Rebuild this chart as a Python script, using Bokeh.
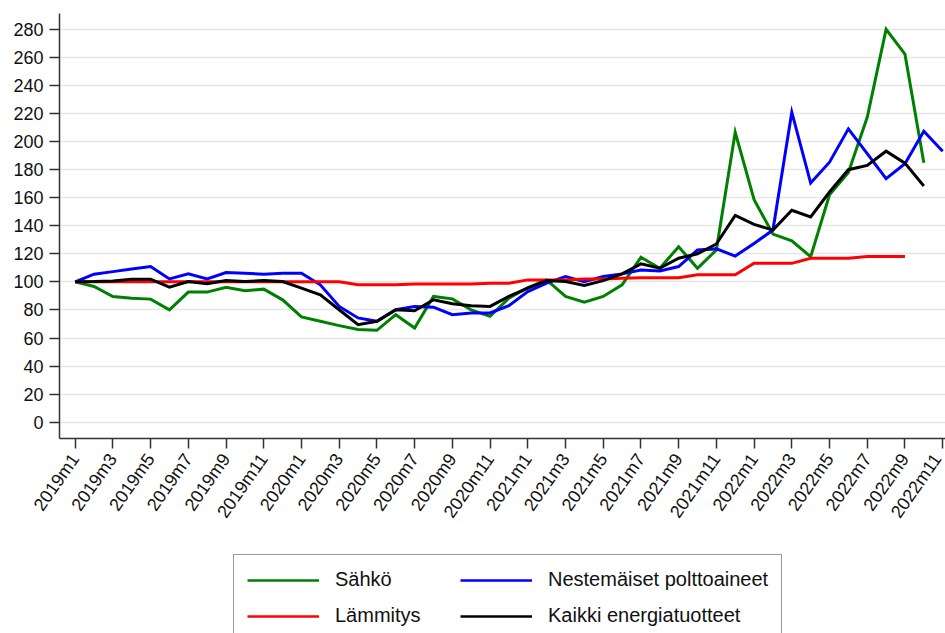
import math
from bokeh.plotting import figure
from bokeh.layouts import column
from bokeh.models import Range1d, FixedTicker, Legend, LegendItem
from bokeh.embed import file_html
from bokeh.resources import INLINE

# ---- data -------------------------------------------------------------
years = [2019, 2020, 2021, 2022]
months = [f"{y}m{m}" for y in years for m in range(1, 13)][:47]
tick_idx = list(range(0, 47, 2))
tick_labels = [months[i] for i in tick_idx]
y_ticks = list(range(0, 281, 20))

sahko = [100, 96.7, 89.6, 88.4, 87.7, 80.1, 92.7, 92.7, 96.2, 93.6,
         94.8, 87.2, 75.0, 71.9, 68.8, 66.0, 65.5, 76.6, 67.1, 89.6,
         87.9, 80.1, 75.4, 88.4, 95.9, 101.4, 89.6, 85.6, 89.6, 97.9,
         117.5, 109.7, 125.0, 109.7, 122.7, 206.6, 158.6, 134.0, 129.3, 117.9,
         162.0, 178.0, 217.3, 279.9, 262.2, 184.9]

nestemaiset = [100, 105.5, 107.3, 109.2, 110.9, 102.1, 105.7, 102.1, 106.6, 106.2,
               105.5, 106.2, 106.2, 97.9, 82.5, 74.3, 71.9, 80.1, 82.5, 82.0,
               76.6, 77.8, 77.8, 83.0, 93.1, 99.1, 103.8, 100.2, 103.8, 105.7,
               108.5, 107.8, 110.9, 122.7, 123.5, 118.4, 127.4, 136.9, 220.9, 170.4,
               185.3, 209.0, 191.3, 173.5, 184.2, 207.3, 193.1]

lammitys = [100, 100, 100, 100, 100, 100, 100, 100, 100, 100,
            100, 100, 100, 100, 100, 98.0, 98.0, 98.0, 98.5, 98.5,
            98.5, 98.5, 99.0, 99.0, 101.4, 101.4, 101.4, 102.0, 102.0, 102.6,
            103.0, 103.0, 103.0, 105.0, 105.0, 105.0, 113.2, 113.2, 113.2, 116.8,
            116.8, 116.8, 118.0, 118.0, 118.0]

kaikki = [100, 100.2, 100.7, 101.9, 101.9, 96.2, 100.2, 98.6, 100.9, 100.2,
          100.9, 100.2, 95.5, 90.8, 80.1, 69.5, 71.9, 80.1, 79.4, 87.2,
          84.4, 83.0, 82.5, 89.6, 95.5, 100.9, 100.2, 97.4, 100.9, 105.7,
          112.8, 109.7, 116.8, 120.0, 127.0, 147.3, 141.0, 136.9, 151.0, 146.3,
          164.0, 179.9, 183.0, 193.1, 184.6, 168.3]

series_names = ["Sähkö", "Nestemäiset polttoaineet", "Lämmitys", "Kaikki energiatuotteet"]
series_colors = ["#008000", "#0000ff", "#ff0000", "#000000"]
series_values = [sahko, nestemaiset, lammitys, kaikki]

# ---- main figure ------------------------------------------------------
FONT = "Liberation Sans"
p = figure(width=945, height=530, output_backend="svg", toolbar_location=None,
           x_range=Range1d(-0.83, 46.15), y_range=Range1d(-11.6, 291.2),
           min_border_left=59, min_border_right=0, min_border_top=13,
           min_border_bottom=92)
p.outline_line_color = None
p.background_fill_color = "white"
p.border_fill_color = "white"

for vals, col in zip(series_values, series_colors):
    p.line(list(range(len(vals))), vals, line_color=col, line_width=3,
           line_join="miter")

xa = p.xaxis[0]
xa.ticker = FixedTicker(ticks=tick_idx)
xa.major_label_overrides = {i: lab for i, lab in zip(tick_idx, tick_labels)}
xa.major_label_orientation = math.radians(55)
xa.major_label_text_font = FONT
xa.major_label_text_font_size = "18px"
xa.major_label_text_color = "#111111"
xa.major_label_standoff = 7
xa.major_tick_out = 10
xa.major_tick_in = 0
xa.minor_tick_out = 0
xa.minor_tick_in = 0
xa.axis_line_color = "#333333"
xa.axis_line_width = 1.5
xa.major_tick_line_color = "#333333"
xa.major_tick_line_width = 1.5

ya = p.yaxis[0]
ya.ticker = FixedTicker(ticks=y_ticks)
ya.major_label_text_font = FONT
ya.major_label_text_font_size = "18px"
ya.major_label_text_color = "#111111"
ya.major_label_standoff = 6
ya.major_tick_out = 10
ya.major_tick_in = 0
ya.minor_tick_out = 0
ya.minor_tick_in = 0
ya.axis_line_color = "#333333"
ya.axis_line_width = 1.5
ya.major_tick_line_color = "#333333"
ya.major_tick_line_width = 1.5

p.xgrid.visible = False
p.ygrid.grid_line_color = "#e6e6e6"
p.ygrid.grid_line_width = 1.5

# ---- legend figure ----------------------------------------------------
q = figure(width=945, height=103, output_backend="svg", toolbar_location=None,
           x_range=Range1d(0, 1), y_range=Range1d(0, 1),
           x_axis_location=None, y_axis_location=None,
           min_border_left=0, min_border_right=0, min_border_top=0,
           min_border_bottom=0)
q.outline_line_color = None
q.grid.visible = False
q.border_fill_color = "white"

keys = []
for col in series_colors:
    keys.append(q.line([float("nan")], [float("nan")], line_color=col,
                       line_width=2.5))

order = [0, 2, 1, 3]
items = [LegendItem(label=series_names[i], renderers=[keys[i]]) for i in order]
legend = Legend(items=items, location=(174, -8), ncols=2,
                glyph_width=72, glyph_height=20, label_standoff=16,
                spacing=13, padding=13, margin=0, label_width=112,
                label_text_font=FONT, label_text_font_size="20px",
                label_text_color="#111111",
                border_line_color="#333333", border_line_width=1.5,
                background_fill_color="white", background_fill_alpha=1.0)
q.add_layout(legend)

layout = column(p, q, spacing=0)
open("out.html", "w").write(file_html(layout, INLINE))
